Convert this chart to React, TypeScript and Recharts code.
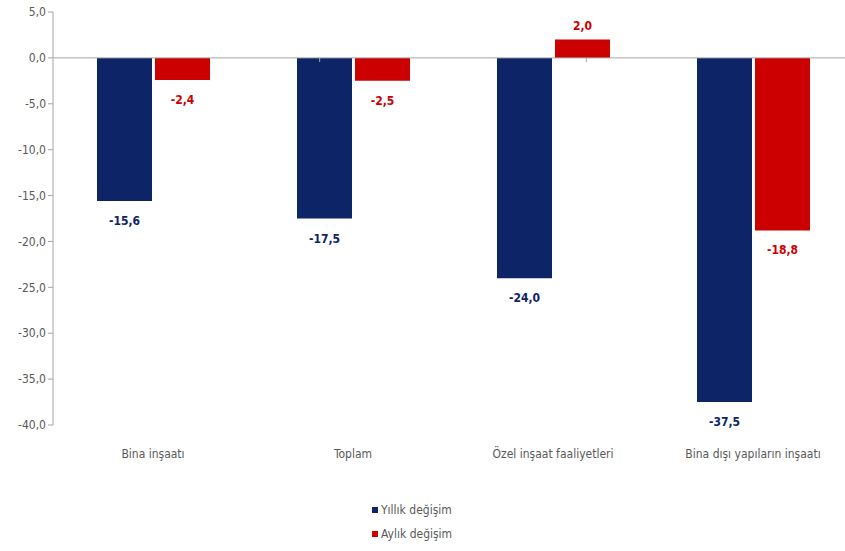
import React from 'react';
import { BarChart, Bar, XAxis, YAxis, ReferenceLine, LabelList, Legend } from 'recharts';

const categories = ['Bina inşaatı', 'Toplam', 'Özel inşaat faaliyetleri', 'Bina dışı yapıların inşaatı'];
const yillik = [-15.6, -17.5, -24.0, -37.5];
const aylik = [-2.4, -2.5, 2.0, -18.8];
const yTicks = [5, 0, -5, -10, -15, -20, -25, -30, -35, -40];
const dividers = [1, 2, 3];

const NAVY = '#0d2466';
const RED = '#cc0000';
const FONT = '"Liberation Sans Narrow", "DejaVu Sans Condensed", sans-serif';

const data = categories.map((name, i) => ({ name, yillik: yillik[i], aylik: aylik[i] }));

const fmt = (v: number) => v.toFixed(1).replace('.', ',');

const makeLabel = (color: string) => (props: any) => {
  const { x, y, width, height, value } = props;
  const top = Math.min(y, y + height);
  const bottom = Math.max(y, y + height);
  const ty = value < 0 ? bottom + 24 : top - 10;
  return (
    <text x={x + width / 2} y={ty} textAnchor="middle" fill={color} fontSize={12} fontWeight="bold" fontFamily={FONT}>
      {fmt(value)}
    </text>
  );
};

const renderLegend = () => (
  <div style={{ fontFamily: FONT, fontSize: 12, color: '#595959' }}>
    {[
      { c: NAVY, t: 'Yıllık değişim' },
      { c: RED, t: 'Aylık değişim' },
    ].map((it) => (
      <div key={it.t} style={{ display: 'flex', alignItems: 'center', height: 24 }}>
        <span style={{ width: 6, height: 6, background: it.c, marginRight: 3, display: 'inline-block' }} />
        {it.t}
      </div>
    ))}
  </div>
);

export default function App() {
  return (
    <div style={{ position: 'absolute', left: 0, top: 0, width: 845, height: 551, overflow: 'hidden', background: '#fff' }}>
      <BarChart
        width={853}
        height={551}
        data={data}
        margin={{ top: 12, right: 0, left: 0, bottom: 86 }}
        barCategoryGap={44}
        barGap={3}
      >
        <XAxis
          dataKey="name"
          axisLine={false}
          tickLine={false}
          tickSize={0}
          tickMargin={24}
          height={40}
          interval={0}
          tick={{ fill: '#595959', fontSize: 12, fontFamily: FONT }}
        />
        <XAxis xAxisId="div" type="number" domain={[0, 4]} hide />
        <YAxis
          domain={[-40, 5]}
          ticks={yTicks}
          interval={0}
          width={53}
          tickFormatter={fmt}
          stroke="#a6a6a6"
          tickSize={5}
          tick={{ fill: '#595959', fontSize: 12, fontFamily: FONT }}
        />
        <ReferenceLine y={0} stroke="#a6a6a6" strokeWidth={1} />
        {dividers.map((d) => (
          <ReferenceLine
            key={d}
            xAxisId="div"
            segment={[{ x: d, y: 0 }, { x: d, y: -0.45 }]}
            stroke="#a6a6a6"
            strokeWidth={1}
          />
        ))}
        <Legend
          layout="vertical"
          align="center"
          verticalAlign="middle"
          content={renderLegend}
          wrapperStyle={{ top: 498, left: 372, width: 'auto' }}
        />
        <Bar dataKey="yillik" name="Yıllık değişim" fill={NAVY} isAnimationActive={false}>
          <LabelList dataKey="yillik" content={makeLabel(NAVY)} />
        </Bar>
        <Bar dataKey="aylik" name="Aylık değişim" fill={RED} isAnimationActive={false}>
          <LabelList dataKey="aylik" content={makeLabel(RED)} />
        </Bar>
      </BarChart>
    </div>
  );
}
